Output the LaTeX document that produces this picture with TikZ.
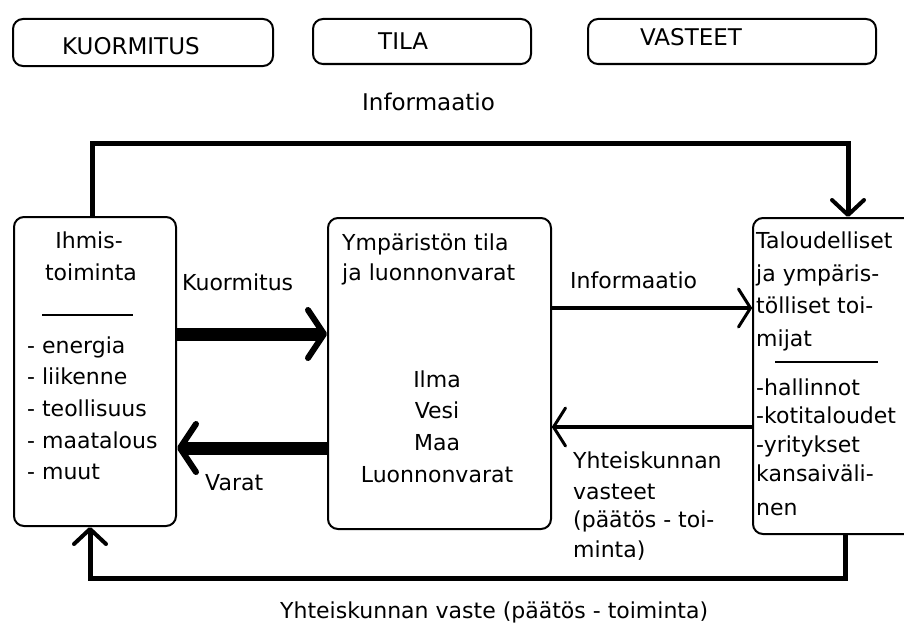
\documentclass[tikz,border=0pt]{standalone}
\usepackage{fontspec}
\setmainfont{DejaVu Sans}
\usetikzlibrary{arrows.meta}
\begin{document}
\begin{tikzpicture}[x=1pt,y=-1pt,
  box/.style={draw, line width=2pt, rounded corners=10pt, anchor=north west, inner sep=0pt},
  txt/.style={font=\fontsize{22}{32}\selectfont, inner sep=0pt},
  toptxt/.style={font=\fontsize{23}{32}\selectfont, inner sep=0pt},
  bigarrow/.style={line width=13pt, -{Straight Barb[round,length=16pt,width=48pt,line width=6pt]}},
  thinarrow/.style={line width=4pt, -{Straight Barb[round,length=12pt,width=38pt,line width=3pt]}},
  fbarrow/.style={line width=5pt, -{Straight Barb[round,length=15pt,width=32pt,line width=4pt]}},
  rulestyle/.style={line width=2pt}]
\useasboundingbox (0,0) rectangle (904,626);
% top legend boxes
\node[box, minimum width=260pt, minimum height=47pt] (bk) at (12,18) {};
\node[box, minimum width=218pt, minimum height=45pt] (bt) at (312,18) {};
\node[box, minimum width=288pt, minimum height=45pt] (bv) at (587,18) {};
\node[toptxt, anchor=base west] (tk) at (62,55) {KUORMITUS};
\node[toptxt, anchor=base west] (tt) at (378,49) {TILA};
\node[toptxt, anchor=base west] (tv) at (640,46) {VASTEET};
% main boxes
\node[box, minimum width=162pt, minimum height=309pt] (L) at (13,216) {};
\node[box, minimum width=223pt, minimum height=311pt] (M) at (327,217) {};
\node[box, minimum width=170pt, minimum height=316pt] (R) at (752,217) {};
% left box text
\node[txt, anchor=base] (l1) at (89,248) {Ihmis-};
\node[txt, anchor=base] (l2) at (91,280) {toiminta};
\draw[rulestyle] (42,315) -- (133,315);
\foreach \t [count=\i] in {{- energia}, {- liikenne}, {- teollisuus}, {- maatalous}, {- muut}}
  \node[txt, anchor=base west] (ll\i) at (27,{353+(\i-1)*31.7}) {\t};
% middle box text
\node[txt, anchor=base west] (m1) at (342,250) {Ympäristön tila};
\node[txt, anchor=base west] (m2) at (342,280) {ja luonnonvarat};
\foreach \t [count=\i] in {Ilma, Vesi, Maa, Luonnonvarat}
  \node[txt, anchor=base] (mm\i) at (437,{387+(\i-1)*31.7}) {\t};
% right box text
\node[txt, anchor=base west] (r1) at (756,248) {Taloudelliset};
\node[txt, anchor=base west] (r2) at (756,281) {ja ympäris-};
\node[txt, anchor=base west] (r3) at (756,313) {tölliset toi-};
\node[txt, anchor=base west] (r4) at (756,346) {mijat};
\draw[rulestyle] (775,362) -- (878,362);
\node[txt, anchor=base west] (rr1) at (756,395) {-hallinnot};
\node[txt, anchor=base west] (rr2) at (756,423) {-kotitaloudet};
\node[txt, anchor=base west] (rr3) at (756,452) {-yritykset};
\node[txt, anchor=base west] (rr4) at (756,481) {kansaiväli-};
\node[txt, anchor=base west] (rr5) at (756,515) {nen};
% connectors
\draw[bigarrow] (L.east |- 0,334) -- (M.west |- 0,334);
\draw[bigarrow] (M.west |- 0,448) -- (L.east |- 0,448);
\draw[thinarrow] (M.east |- 0,308) -- (R.west |- 0,308);
\draw[thinarrow] (R.west |- 0,427) -- (M.east |- 0,427);
\draw[fbarrow] (L.north -| 92,0) -- (92,143) -- (848,143) -- (R.north west -| 848,0);
\draw[fbarrow] (R.south west -| 845,0) -- (845,578) -- (90,578) -- (L.south west -| 90,0);
% labels
\node[toptxt, anchor=base west] (info1) at (362,110) {Informaatio};
\node[txt, anchor=base west] (kuor) at (182,290) {Kuormitus};
\node[txt, anchor=base west] (varat) at (205,490) {Varat};
\node[txt, anchor=base west] (info2) at (570,288) {Informaatio};
\node[txt, anchor=base west] (y1) at (573,468) {Yhteiskunnan};
\node[txt, anchor=base west] (y2) at (573,499) {vasteet};
\node[txt, anchor=base west] (y3) at (573,527) {(päätös - toi-};
\node[txt, anchor=base west] (y4) at (573,557) {minta)};
\node[txt, anchor=base west] (bottom) at (280,618) {Yhteiskunnan vaste (päätös - toiminta)};
\end{tikzpicture}
\end{document}
